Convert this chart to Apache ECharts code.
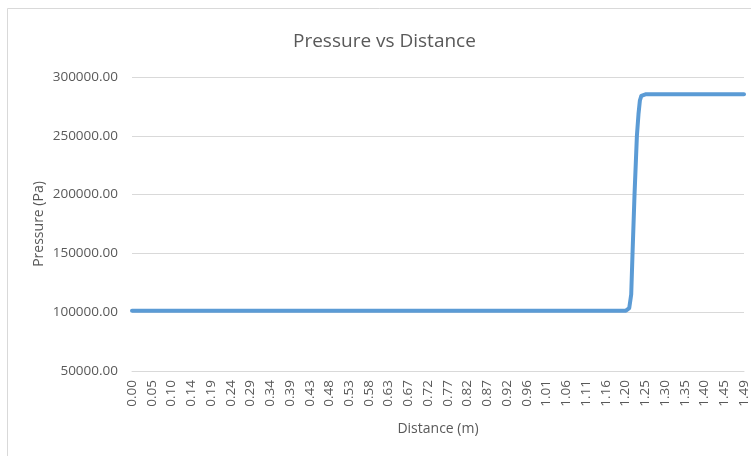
<!DOCTYPE html>
<html>
<head>
<meta charset="utf-8">
<script src="https://cdn.jsdelivr.net/npm/echarts@6/dist/echarts.min.js"></script>
<style>
  html, body { margin: 0; padding: 0; background: #fff; }
  #chart { width: 751px; height: 456px; }
</style>
</head>
<body>
<div id="chart"></div>
<script>
// tick labels shown on the distance axis (Excel category labels)
const tickLabels = [
  '0.00', '0.05', '0.10', '0.14', '0.19', '0.24', '0.29', '0.34', '0.39', '0.43',
  '0.48', '0.53', '0.58', '0.63', '0.67', '0.72', '0.77', '0.82', '0.87', '0.92',
  '0.96', '1.01', '1.06', '1.11', '1.16', '1.20', '1.25', '1.30', '1.35', '1.40',
  '1.45', '1.49'
]
const tickStep = 0.04818

// measured curve (m, Pa)
const distance = [0, 1.2054, 1.2135, 1.2183, 1.2215, 1.2264, 1.2322, 1.2361, 1.2395, 1.2430, 1.2470, 1.2530, 1.4936]
const pressure = [101325, 101325, 103500, 115000, 149500, 200000, 250000, 268500, 280000, 284000, 285200, 285300, 285300]

const textColor = '#595959'
const gridColor = '#d9d9d9'
const font = 'Open Sans'

const chart = echarts.init(document.getElementById('chart'))

chart.setOption({
  backgroundColor: '#fff',
  animation: false,
  graphic: [
    {
      type: 'rect',
      shape: { x: 7.5, y: 8.5, width: 800, height: 500 },
      style: { fill: 'none', stroke: gridColor, lineWidth: 1 },
      silent: true
    }
  ],
  title: {
    text: 'Pressure vs Distance',
    left: 288,
    top: 27,
    textStyle: { fontFamily: font, fontSize: 19, fontWeight: 'normal', color: textColor }
  },
  grid: { left: 132, right: 6, top: 77, bottom: 85 },
  xAxis: {
    type: 'value',
    min: 0,
    max: tickStep * (tickLabels.length - 1),
    interval: tickStep,
    name: 'Distance (m)',
    nameLocation: 'middle',
    nameGap: 51,
    nameMoveOverlap: false,
    nameTextStyle: { fontFamily: font, fontSize: 14, color: textColor },
    axisLine: { show: true, lineStyle: { color: gridColor } },
    axisTick: { show: false },
    splitLine: { show: false },
    axisLabel: {
      rotate: 90,
      margin: 9,
      fontFamily: font,
      fontSize: 13.5,
      color: textColor,
      showMaxLabel: true,
      formatter: (v) => tickLabels[Math.round(v / tickStep)] || ''
    }
  },
  yAxis: {
    type: 'value',
    min: 50000,
    max: 300000,
    interval: 50000,
    name: 'Pressure (Pa)',
    nameLocation: 'middle',
    nameGap: 86,
    nameMoveOverlap: false,
    nameTextStyle: { fontFamily: font, fontSize: 14, color: textColor },
    axisLine: { show: false },
    axisTick: { show: false },
    splitLine: { lineStyle: { color: gridColor } },
    axisLabel: {
      margin: 14,
      fontFamily: font,
      fontSize: 13.5,
      color: textColor,
      formatter: (v) => v.toFixed(2)
    }
  },
  series: [
    {
      type: 'line',
      data: distance.map((d, i) => [d, pressure[i]]),
      showSymbol: false,
      smooth: false,
      lineStyle: { color: '#5b9bd5', width: 4, cap: 'round', join: 'round' }
    }
  ]
})
</script>
</body>
</html>
